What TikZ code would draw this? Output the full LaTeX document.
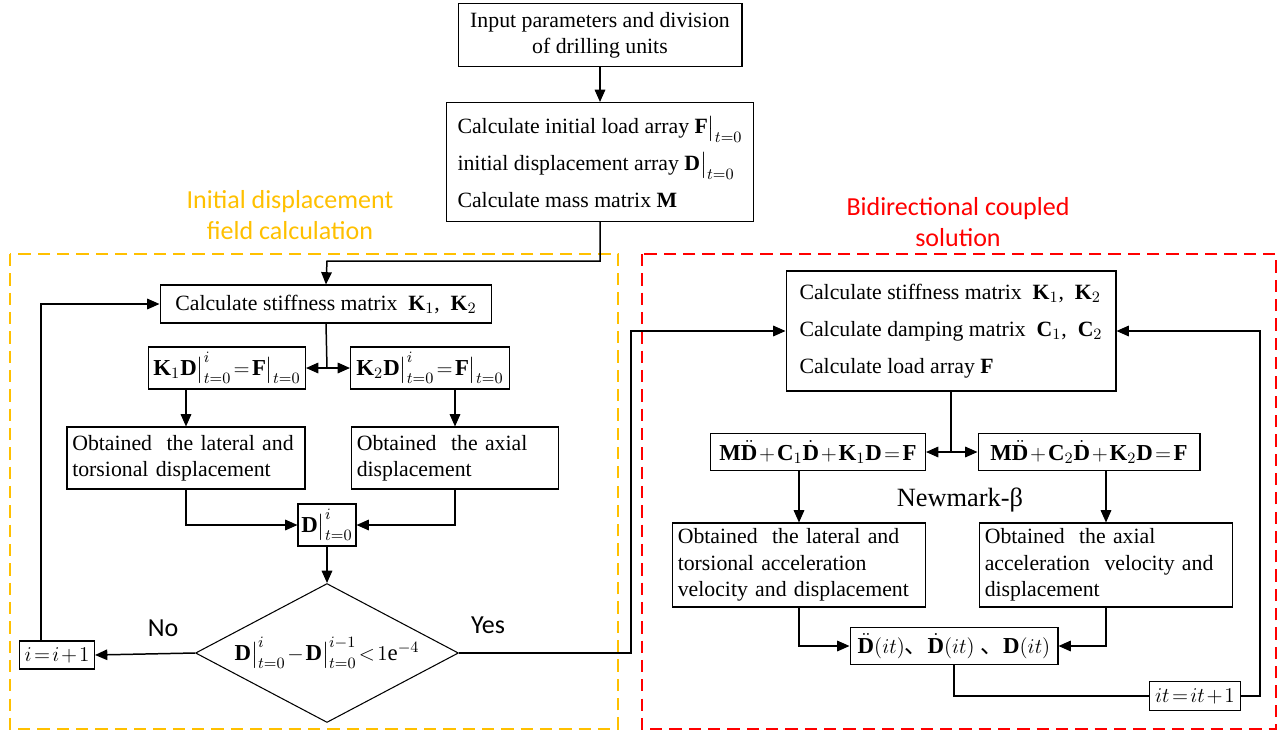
\documentclass[tikz,border=0pt]{standalone}
\usepackage{amsmath}
\usepackage{fontspec}
\setmainfont{Liberation Serif}
\newfontfamily\labelfont{Carlito}
\newfontfamily\cjk{Noto Sans CJK SC}
\usetikzlibrary{arrows.meta, positioning, shapes.geometric}
\definecolor{framegold}{HTML}{FFC000}
\definecolor{framered}{HTML}{FF0000}
\newcommand\tightmath{\thickmuskip=2mu\relax\medmuskip=1.5mu\relax}
\tikzset{
  box/.style={draw, line width=0.6pt, align=center, font=\fontsize{12.4}{15}\selectfont\tightmath, inner xsep=5pt, inner ysep=2pt},
  lbox/.style={box, align=left, inner xsep=3pt},
  eqbox/.style={box, inner xsep=1pt, font=\fontsize{13}{16}\selectfont\tightmath},
  dec/.style={draw, diamond, line width=0.6pt, inner sep=0pt},
  arr/.style={-{Triangle[length=7pt, width=6pt]}, line width=0.85pt},
  con/.style={line width=0.85pt},
  frame/.style={dash pattern=on 7pt off 4pt, line width=0.9pt},
  lbl/.style={font=\labelfont\fontsize{14.8}{17.6}\selectfont, align=center}
}

\begin{document}
\begin{tikzpicture}[x=0.02cm, y=-0.02cm]
    \useasboundingbox (0,0) rectangle (1282,731);
    \draw[frame, framegold] (10,254) rectangle (618,729);
    \draw[frame, framered] (642,254) rectangle (1276,729);
    \node[lbl, text=framegold] (tl) at (290,215) {Initial displacement\\field calculation};
    \node[lbl, text=framered] (tr) at (958,222) {Bidirectional coupled\\solution};

    \node[box, minimum width=5.68cm, minimum height=1.26cm] (inp) at (600,35) {Input parameters and division\\of drilling units};
    \node[lbox, minimum width=6.14cm, minimum height=2.38cm] (init) at (600,162) {Calculate initial load array $\mathbf{F}\big|_{t=0}$\\[6pt]initial displacement array $\mathbf{D}\big|_{t=0}$\\[6pt]Calculate mass matrix $\mathbf{M}$};

    \node[box, minimum width=6.64cm, minimum height=0.76cm] (stf) at (326,304) {Calculate stiffness matrix\ \ $\mathbf{K}_1$,\ \ $\mathbf{K}_2$};
    \node[eqbox, minimum width=3.14cm, minimum height=0.84cm] (kd1) at (227,368) {$\mathbf{K}_1\mathbf{D}\big|_{t=0}^{i}=\mathbf{F}\big|_{t=0}$};
    \node[eqbox, minimum width=3.18cm, minimum height=0.84cm] (kd2) at (430,368) {$\mathbf{K}_2\mathbf{D}\big|_{t=0}^{i}=\mathbf{F}\big|_{t=0}$};
    \node[lbox, text width=4.55cm, minimum height=1.24cm] (lat) at (186,458) {Obtained\ \ the lateral and\\torsional displacement};
    \node[lbox, text width=3.93cm, minimum height=1.24cm] (axi) at (455,458) {Obtained\ \ the axial\\displacement};
    \node[eqbox, minimum width=1.16cm, minimum height=0.84cm] (dsum) at (327,525) {$\mathbf{D}\big|_{t=0}^{i}$};
    \node[dec, minimum width=5.26cm, minimum height=2.78cm] (conv) at (327,653) {};
    \node[eqbox, draw=none, inner sep=0pt] (convtxt) at (conv) {$\mathbf{D}\big|_{t=0}^{i}-\mathbf{D}\big|_{t=0}^{i-1}<1\mathrm{e}^{-4}$};
    \node[eqbox, minimum width=1.5cm, minimum height=0.56cm, inner ysep=0pt] (inc) at (57,655) {$i=i+1$};
    \node[lbl] (no) at (163,628) {No};
    \node[lbl] (yes) at (488,625) {Yes};

    \node[lbox, minimum width=6.6cm, minimum height=2.4cm] (cpl) at (951,331) {Calculate stiffness matrix\ \ $\mathbf{K}_1$,\ \ $\mathbf{K}_2$\\[6pt]Calculate damping matrix\ \ $\mathbf{C}_1$,\ \ $\mathbf{C}_2$\\[6pt]Calculate load array $\mathbf{F}$};
    \node[eqbox, minimum width=4.3cm, minimum height=0.74cm] (eq1) at (818,452) {$\mathbf{M}\ddot{\mathbf{D}}+\mathbf{C}_1\dot{\mathbf{D}}+\mathbf{K}_1\mathbf{D}=\mathbf{F}$};
    \node[eqbox, minimum width=4.44cm, minimum height=0.74cm] (eq2) at (1089,452) {$\mathbf{M}\ddot{\mathbf{D}}+\mathbf{C}_2\dot{\mathbf{D}}+\mathbf{K}_2\mathbf{D}=\mathbf{F}$};
    \node[font=\fontsize{15}{18}\selectfont] (nm) at (960,500) {Newmark-β};
    \node[lbox, text width=4.85cm, minimum height=1.68cm] (rlat) at (799,565) {Obtained\ \ the lateral and\\torsional acceleration\\velocity and displacement};
    \node[lbox, text width=4.85cm, minimum height=1.68cm] (rax) at (1106,565) {Obtained\ \ the axial\\acceleration\ \ velocity and\\displacement};
    \node[eqbox, minimum width=4.16cm, minimum height=0.74cm] (dit) at (954,646) {$\ddot{\mathbf{D}}(it)$\mbox{\cjk 、}$\dot{\mathbf{D}}(it)$ \mbox{\cjk 、}$\mathbf{D}(it)$};
    \node[eqbox, minimum width=1.82cm, minimum height=0.58cm, inner ysep=0pt] (itc) at (1195,696) {$it=it+1$};

    \coordinate (j1) at (327,261);
    \coordinate (sp1) at (327,368);
    \coordinate (lp) at (41,304);
    \coordinate (yc) at (631,331);
    \coordinate (sp2) at (951,452);
    \coordinate (rc) at (1260,331);

    \draw[arr] (inp) -- (init);
    \draw[arr] (init.south) |- (j1) -- (stf.north);
    \draw[con] (stf.south) -- (sp1);
    \draw[arr] (sp1) -- (kd1.east);
    \draw[arr] (sp1) -- (kd2.west);
    \draw[arr] (lat.north |- kd1.south) -- (lat.north);
    \draw[arr] (axi.north |- kd2.south) -- (axi.north);
    \draw[arr] (lat.south) |- (dsum.west);
    \draw[arr] (axi.south) |- (dsum.east);
    \draw[arr] (dsum) -- (conv);
    \draw[arr] (conv.west) -- (inc.east);
    \draw[arr] (inc.north -| lp) -- (lp) -- (stf.west);
    \draw[arr] (conv.east) -| (yc) -- (cpl.west);
    \draw[con] (cpl.south) -- (sp2);
    \draw[arr] (sp2) -- (eq1.east);
    \draw[arr] (sp2) -- (eq2.west);
    \draw[arr] (rlat.north |- eq1.south) -- (rlat.north);
    \draw[arr] (rax.north |- eq2.south) -- (rax.north);
    \draw[arr] (rlat.south) |- (dit.west);
    \draw[arr] (rax.south) |- (dit.east);
    \draw[con] (dit.south) |- (itc.west);
    \draw[arr] (itc.east) -| (rc) -- (cpl.east);
  \end{tikzpicture}
\end{document}
